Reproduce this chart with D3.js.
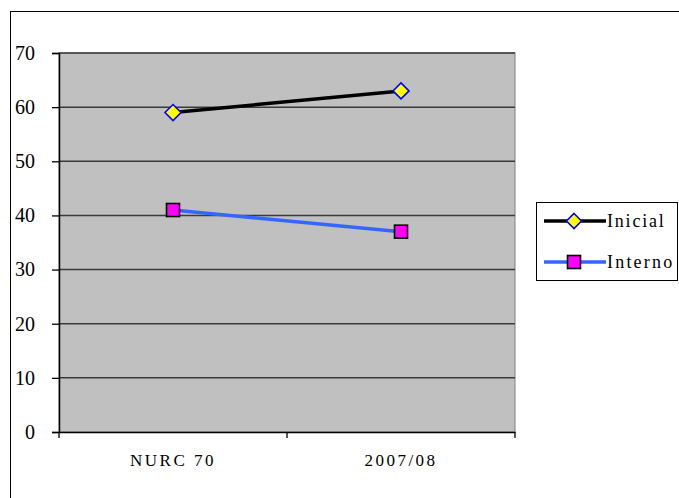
<!DOCTYPE html>
<html><head><meta charset="utf-8">
<script src="https://cdn.jsdelivr.net/npm/d3@7"></script>
</head><body style="margin:0;font-family:'Liberation Serif',serif">
<svg id="c" width="679" height="498" style="display:block" font-family="Liberation Serif"></svg>
<script>
const categories = ["NURC 70", "2007/08"];
const inicial = [59, 63];
const interno = [41, 37];
const yTicks = [0, 10, 20, 30, 40, 50, 60, 70];
const seriesNames = ["Inicial", "Interno"];

const FONT = "Liberation Serif";
const setFont = sel => sel.attr("font-family", FONT).style("font-family", FONT);
const svg = d3.select("#c");
// outer frame
svg.append("rect").attr("x", 10.5).attr("y", 11.5).attr("width", 700).attr("height", 520)
  .attr("fill", "none").attr("stroke", "#000").attr("stroke-width", 1);

const L = 59, R = 515, T = 53, B = 432;
const x = d3.scaleBand().domain(categories).range([L, R]);
const y = d3.scaleLinear().domain([0, 70]).range([B, T]);

svg.append("rect").attr("x", L).attr("y", T).attr("width", R - L).attr("height", B - T)
  .attr("fill", "#c0c0c0").attr("stroke", "#808080").attr("stroke-width", 1);

// gridlines
svg.append("g").selectAll("line").data(yTicks.filter(d => d > 0)).join("line")
  .attr("x1", L).attr("x2", R).attr("y1", d => y(d)).attr("y2", d => y(d))
  .attr("stroke", "#3a3a3a").attr("stroke-width", 1.5);

// y axis
const ya = svg.append("g").attr("transform", `translate(${L},0)`)
  .call(d3.axisLeft(y).tickValues(yTicks).tickSize(7).tickPadding(17));
setFont(ya);
ya.select(".domain").attr("stroke", "#000").attr("stroke-width", 1.5);
ya.selectAll(".tick line").attr("stroke", "#000").attr("stroke-width", 1.3);
setFont(ya.selectAll("text")).attr("font-size", 20).attr("fill", "#000");

// x axis
const xa = svg.append("g").attr("transform", `translate(0,${B})`)
  .call(d3.axisBottom(x).tickSize(0).tickPadding(22));
setFont(xa);
xa.select(".domain").attr("stroke", "#000").attr("stroke-width", 1.5);
setFont(xa.selectAll("text")).attr("font-size", 17).attr("fill", "#000")
  .attr("letter-spacing", 2.5).attr("dy", "0.71em");
// x tick marks at band boundaries
svg.append("g").selectAll("line").data([...categories.map(c => x(c)), R]).join("line")
  .attr("x1", d => d).attr("x2", d => d).attr("y1", B).attr("y2", B + 6)
  .attr("stroke", "#000").attr("stroke-width", 1.3);

const cx = c => x(c) + x.bandwidth() / 2;
const line = d3.line().x((d, i) => cx(categories[i])).y(d => y(d));

svg.append("path").datum(inicial).attr("d", line).attr("fill", "none")
  .attr("stroke", "#000").attr("stroke-width", 3.5);
svg.append("path").datum(interno).attr("d", line).attr("fill", "none")
  .attr("stroke", "#3366ff").attr("stroke-width", 3.5);

const diamond = (g, px, py, s) => g.append("path")
  .attr("d", `M${px},${py - s}L${px + s},${py}L${px},${py + s}L${px - s},${py}Z`)
  .attr("fill", "#ffff00").attr("stroke", "#0000ff").attr("stroke-width", 1.6);
const square = (g, px, py, s) => g.append("rect")
  .attr("x", px - s).attr("y", py - s).attr("width", 2 * s).attr("height", 2 * s)
  .attr("fill", "#ff00ff").attr("stroke", "#000").attr("stroke-width", 1.6);

const mk = svg.append("g");
inicial.forEach((v, i) => diamond(mk, cx(categories[i]), y(v), 8));
interno.forEach((v, i) => square(mk, cx(categories[i]), y(v), 6.5));

// legend
const lg = svg.append("g");
lg.append("rect").attr("x", 536.5).attr("y", 202.5).attr("width", 141).attr("height", 78)
  .attr("fill", "#fff").attr("stroke", "#000").attr("stroke-width", 1);
const legY = [221, 262];
const colors = ["#000", "#3366ff"];
const spacing = [1.8, 2.2];
seriesNames.forEach((n, i) => {
  lg.append("line").attr("x1", 544).attr("x2", 606).attr("y1", legY[i]).attr("y2", legY[i])
    .attr("stroke", colors[i]).attr("stroke-width", 3.5);
  if (i === 0) diamond(lg, 574, legY[i], 7.5); else square(lg, 574, legY[i], 6.5);
  setFont(lg.append("text")).attr("x", 607).attr("y", legY[i]).attr("dy", "0.35em")
    .attr("font-size", 18).attr("letter-spacing", spacing[i]).text(n);
});
</script>
</body></html>
